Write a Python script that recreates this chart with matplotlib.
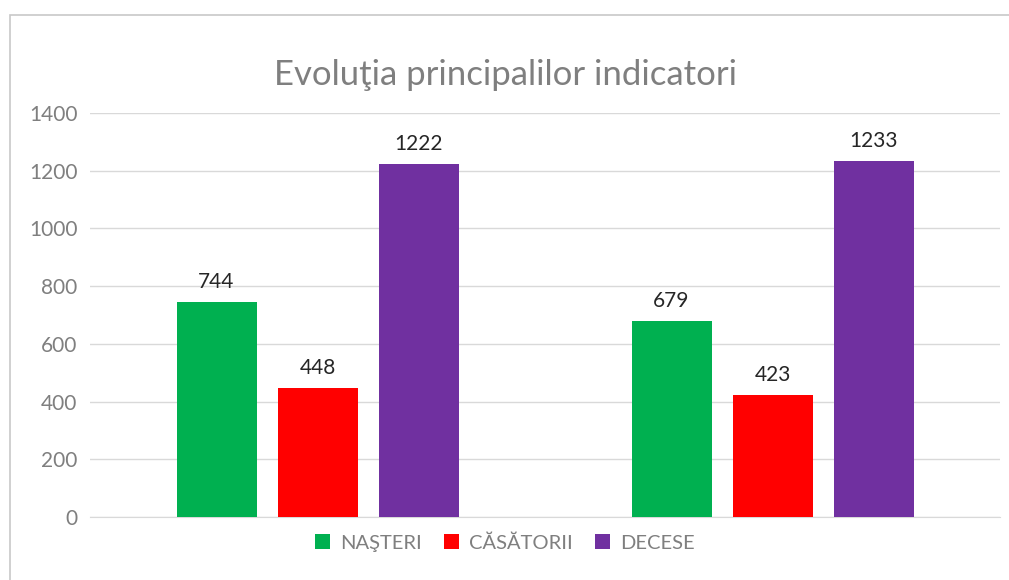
import matplotlib
matplotlib.use('Agg')
import matplotlib.pyplot as plt
import numpy as np

# Date
grupe = ['', '']
serii = ['NAŞTERI', 'CĂSĂTORII', 'DECESE']
nasteri = [744, 679]
casatorii = [448, 423]
decese = [1222, 1233]
culori = ['#00b050', '#ff0000', '#7030a0']

plt.rcParams['font.family'] = ['Lato', 'DejaVu Sans']

W, H = 1009, 580
fig = plt.figure(figsize=(W / 100, H / 100), dpi=100)

# chenarul graficului (taiat in dreapta si jos)
fig.add_artist(plt.Rectangle((10 / W, -0.1), 1.2, (580 - 15) / H + 0.1,
                             transform=fig.transFigure, fill=False,
                             edgecolor='#c8c8c8', linewidth=1.2))

ax = fig.add_axes([90 / W, (580 - 517) / H, 910 / W, (517 - 113) / H])

x = np.arange(len(grupe))
latime = 80 / 455
pas = 101 / 455
for i, (nume, val) in enumerate(zip(serii, [nasteri, casatorii, decese])):
    bare = ax.bar(x + (i - 1) * pas, val, latime, color=culori[i], label=nume, zorder=3)
    for b, v in zip(bare, val):
        ax.text(b.get_x() + b.get_width() / 2, v + 35, str(v), ha='center', va='bottom',
                fontsize=15, color='#262626')

ax.set_xlim(-0.5, 1.5)
ax.set_ylim(0, 1400)
ax.set_yticks(range(0, 1401, 200))
ax.yaxis.grid(True, color='#d9d9d9', linewidth=1)
ax.set_xticks([])
for s in ['top', 'right', 'left']:
    ax.spines[s].set_visible(False)
ax.spines['bottom'].set_color('#d9d9d9')
ax.tick_params(axis='y', length=0, pad=9, labelsize=15, labelcolor='#7f7f7f')

fig.text(506 / W, 1 - 75 / H, 'Evoluţia principalilor indicatori', ha='center', va='center',
         fontsize=25, color='#7f7f7f')

leg = fig.legend(loc='center', bbox_to_anchor=(505 / W, 1 - 543 / H), ncol=3, frameon=False,
                 fontsize=14.5, handlelength=0.75, handleheight=0.75, columnspacing=1.1,
                 handletextpad=0.5)
for t in leg.get_texts():
    t.set_color('#7f7f7f')

fig.savefig('out.png', dpi=100)
